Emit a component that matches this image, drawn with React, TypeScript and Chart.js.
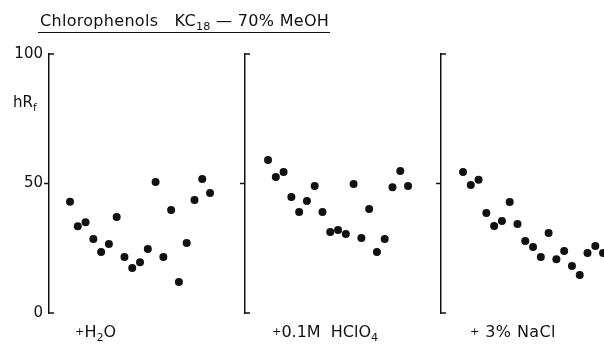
import React, { useEffect, useRef } from 'react';
import { Chart, registerables } from 'chart.js';

Chart.register(...registerables);

// compound index (position along each panel)
const compounds = [1, 2, 3, 4, 5, 6, 7, 8, 9, 10, 11, 12, 13, 14, 15, 16, 17, 18, 19];

// hRf values
const h2oValues = [43, 33.5, 35, 28.6, 23.6, 26.6, 37.1, 21.6, 17.4, 19.6, 24.7, 50.6, 21.6, 39.8, 12.0, 27.0, 43.6, 51.7, 46.3];
const hclo4Values = [59.1, 52.5, 54.4, 44.8, 39.0, 43.2, 49.0, 39.0, 31.3, 32.0, 30.5, 49.8, 29.0, 40.2, 23.6, 28.6, 48.6, 54.8, 49.0];
const naclValues = [54.4, 49.4, 51.4, 38.6, 33.6, 35.5, 42.9, 34.4, 27.8, 25.5, 21.6, 30.9, 20.8, 23.9, 18.1, 14.7, 23.2, 25.9, 23.2];

const yTicks = [0, 50, 100];

const FONT = "'DejaVu Sans', sans-serif";
const INK = '#111';

const bracketPlugin = {
  id: 'bracketEnds',
  afterDraw(chart: any) {
    const y = chart.scales.y;
    const ctx = chart.ctx;
    const x0 = chart.chartArea.left;
    ctx.save();
    ctx.strokeStyle = INK;
    ctx.lineWidth = 1.5;
    [yTicks[0], yTicks[yTicks.length - 1]].forEach((v) => {
      const py = y.getPixelForValue(v);
      ctx.beginPath();
      ctx.moveTo(x0 - 0.75, py);
      ctx.lineTo(x0 + 5, py);
      ctx.stroke();
    });
    ctx.restore();
  },
};

type PanelProps = {
  values: number[];
  left: number;
  width: number;
  xMin: number;
  xMax: number;
  showLabels: boolean;
};

function Panel({ values, left, width, xMin, xMax, showLabels }: PanelProps) {
  const ref = useRef<HTMLCanvasElement>(null);
  useEffect(() => {
    const chart = new Chart(ref.current as HTMLCanvasElement, {
      type: 'scatter',
      data: {
        datasets: [
          {
            data: compounds.map((c, i) => ({ x: c, y: values[i] })),
            backgroundColor: INK,
            borderColor: INK,
            borderWidth: 0,
            pointRadius: 4,
            clip: false as any,
          },
        ],
      },
      options: {
        animation: false,
        responsive: false,
        maintainAspectRatio: false,
        layout: { autoPadding: false, padding: { top: 54, bottom: 33, left: 0, right: 0 } },
        plugins: {
          legend: { display: false },
          tooltip: { enabled: false },
          title: { display: false },
        },
        scales: {
          x: { type: 'linear', display: false, min: xMin, max: xMax },
          y: {
            type: 'linear',
            min: yTicks[0],
            max: yTicks[yTicks.length - 1],
            afterBuildTicks: (axis: any) => {
              axis.ticks = yTicks.map((v) => ({ value: v }));
            },
            afterFit: (axis: any) => {
              axis.width = 49;
            },
            border: { display: true, color: INK, width: 1.5 },
            grid: {
              display: true,
              drawOnChartArea: false,
              drawTicks: true,
              tickLength: 5,
              tickWidth: 1.5,
              tickColor: (ctx: any) =>
                ctx.tick && ctx.tick.value === 50 ? INK : 'rgba(0,0,0,0)',
            },
            ticks: {
              display: showLabels,
              autoSkip: false,
              padding: 1,
              color: INK,
              font: { family: FONT, size: 15 },
            },
          },
        },
      },
      plugins: [bracketPlugin],
    } as any);
    return () => chart.destroy();
  }, []);
  return (
    <canvas
      ref={ref}
      width={width}
      height={346}
      style={{ position: 'absolute', left, top: 0, width, height: 346 }}
    />
  );
}

const txt: React.CSSProperties = {
  position: 'absolute',
  fontFamily: FONT,
  color: INK,
  lineHeight: '1',
  whiteSpace: 'nowrap',
};

const sub: React.CSSProperties = { position: 'relative', top: 4, fontSize: '0.7em' };
const plus: React.CSSProperties = { fontSize: '0.7em', position: 'relative', top: -2 };

export default function App() {
  return (
    <div
      style={{
        position: 'absolute',
        left: 0,
        top: 0,
        width: 604,
        height: 346,
        background: '#fff',
        overflow: 'hidden',
      }}
    >
      <Panel values={h2oValues} left={0} width={234} xMin={-1.7} xMax={22.08} showLabels={true} />
      <Panel values={hclo4Values} left={196} width={234} xMin={-1.96} xMax={21.82} showLabels={false} />
      <Panel values={naclValues} left={392} width={212} xMin={-1.83} xMax={19.12} showLabels={false} />

      <div style={{ ...txt, left: 40, top: 13, fontSize: 16, letterSpacing: 0.3 }}>
        Chlorophenols&nbsp;&nbsp; KC<span style={sub}>18</span> —&nbsp;70% MeOH
      </div>
      <div
        style={{
          position: 'absolute',
          left: 38,
          top: 32,
          width: 292,
          height: 0,
          borderTop: '1.5px solid ' + INK,
        }}
      />
      <div style={{ ...txt, left: 13, top: 95, fontSize: 15 }}>
        hR<span style={sub}>f</span>
      </div>
      <div style={{ ...txt, left: 75, top: 324, fontSize: 16 }}>
        <span style={plus}>+</span>H<span style={sub}>2</span>O
      </div>
      <div style={{ ...txt, left: 272, top: 324, fontSize: 16 }}>
        <span style={plus}>+</span>0.1M&nbsp;&nbsp;HClO<span style={sub}>4</span>
      </div>
      <div style={{ ...txt, left: 470, top: 324, fontSize: 16, letterSpacing: 0.4 }}>
        <span style={plus}>+</span> 3% NaCl
      </div>
    </div>
  );
}
